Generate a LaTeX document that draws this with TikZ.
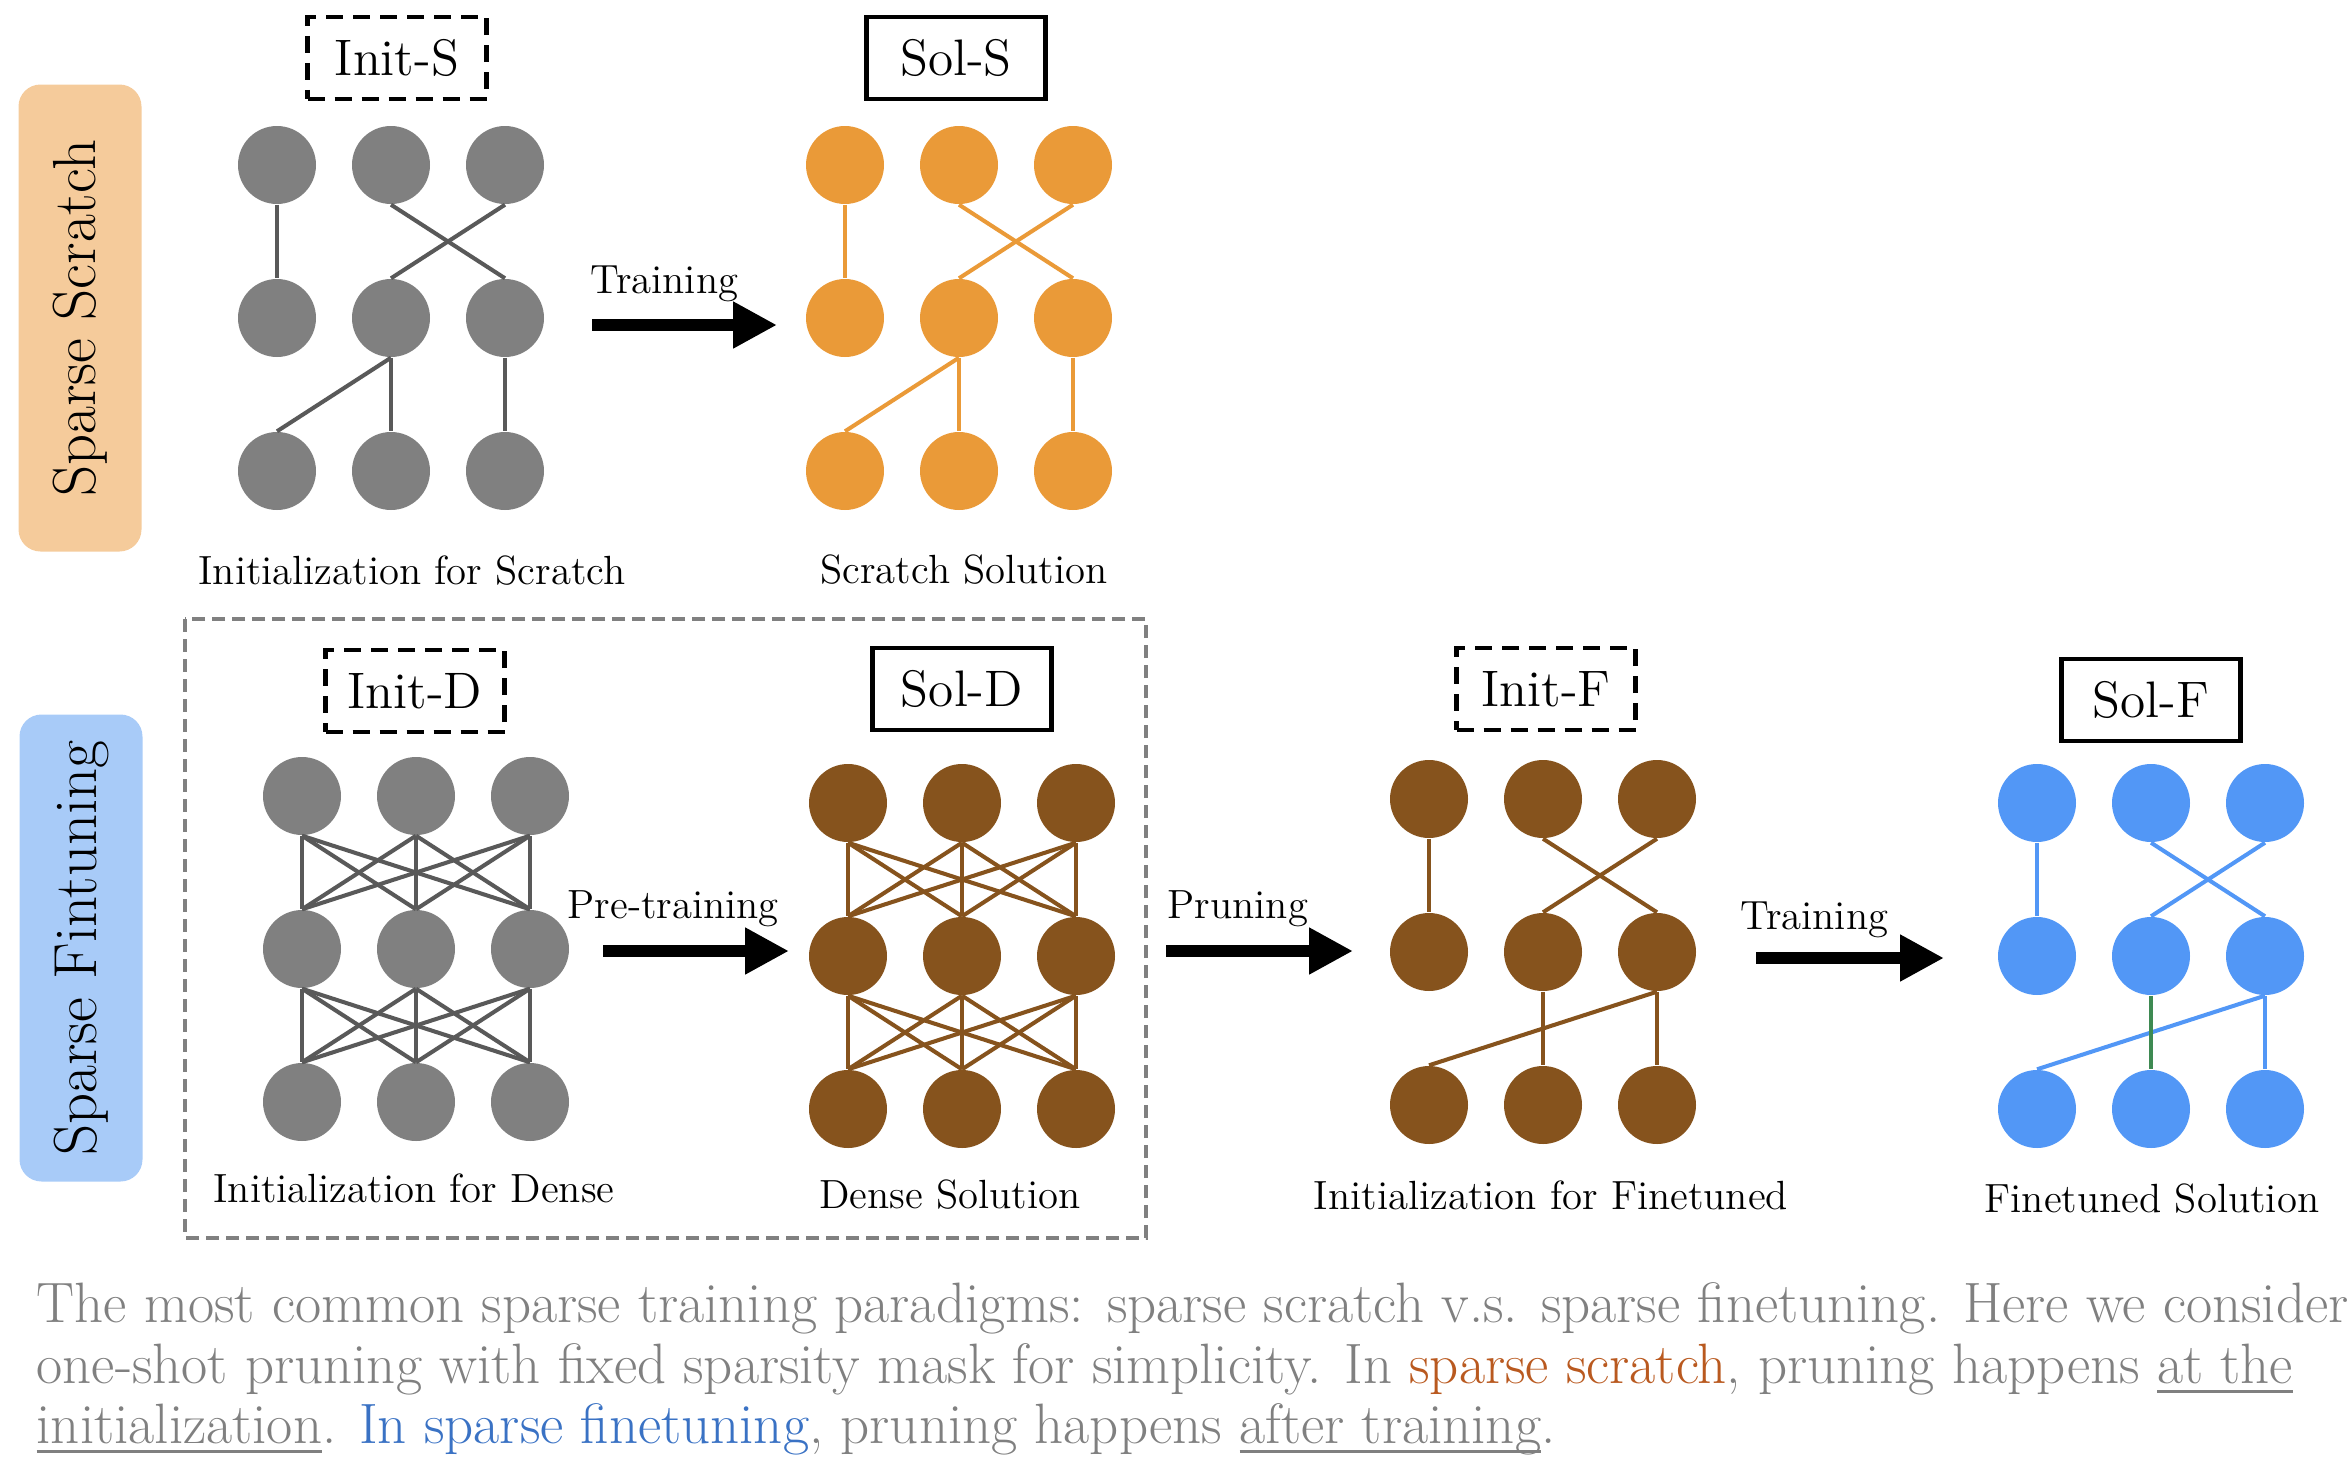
\documentclass[tikz,border=0pt]{standalone}
\usepackage{tikz}
\usetikzlibrary{arrows.meta,calc}
\definecolor{nodegray}{HTML}{808080}
\definecolor{edgegray}{HTML}{595959}
\definecolor{scrorange}{HTML}{EA9A38}
\definecolor{densebrown}{HTML}{86531D}
\definecolor{finblue}{HTML}{5297F6}
\definecolor{maskgreen}{HTML}{3E8A52}
\definecolor{scrfill}{HTML}{F5CB9B}
\definecolor{finfill}{HTML}{A8CBF8}
\definecolor{capgray}{HTML}{808080}
\definecolor{caporange}{HTML}{B9591F}
\definecolor{capblue}{HTML}{3A72C4}
\tikzset{>=Triangle}
\newcommand*{\undl}[1]{\setbox0\hbox{#1}\rlap{\rule[-2.9pt]{\wd0}{0.9pt}}\box0}

\begin{document}
\begin{tikzpicture}[x=0.1mm,y=-0.1mm,
  neuron/.style={circle,inner sep=0pt,minimum size=7.8mm},
  link/.style={line width=1.15pt},
  boxlbl/.style={line width=1.3pt,minimum width=17.9mm,minimum height=8.2mm,
    inner sep=0pt,font=\fontsize{14.6}{16}\selectfont},
  initbox/.style={boxlbl,draw,dash pattern=on 1.7mm off 1mm},
  solbox/.style={boxlbl,draw},
  netlbl/.style={anchor=base,inner sep=0pt,font=\fontsize{11.6}{13}\selectfont},
  steplbl/.style={anchor=base west,inner sep=0pt,font=\fontsize{11.6}{13}\selectfont},
  flow/.style={line width=1.2mm,-{Triangle[length=4.4mm,width=4.4mm]}},
  side/.style={rotate=90,rounded corners=2.2mm,minimum width=46.7mm,
    minimum height=12.3mm,font=\fontsize{17.3}{19}\selectfont},
  caption/.style={anchor=base west,inner sep=0pt,text=capgray,
    font=\fontsize{16.2}{18}\selectfont}]
\useasboundingbox (0,0) rectangle (2350,1462);

% side tags
\node[side,fill=scrfill] (scratch) at (80,318) {Sparse Scratch};
\node[side,fill=finfill] (finetune) at (81,948) {Sparse Fintuning};

% frame round the dense part
\draw[nodegray,line width=1.2pt,dash pattern=on 1.3mm off 0.7mm] (185,619) rectangle (1146,1238);

% the six networks
\foreach \n/\x/\y/\c in {IS/277/165/nodegray, SS/845/165/scrorange,
    ID/302/796/nodegray, SD/848/803/densebrown,
    IF/1429/799/densebrown, SF/2037/803/finblue}
  \foreach \i in {1,2,3}
    \foreach \r/\k in {a/0,b/1,c/2}
      \node[neuron,fill=\c] (\n\r\i) at ({\x+114*(\i-1)},{\y+153*\k}) {};

% sparse (scratch)
\foreach \n/\c in {IS/edgegray, SS/scrorange}
  \foreach \u/\v in {a1/b1,a2/b3,a3/b2,b2/c1,b2/c2,b3/c3}
    \draw[link,\c] (\n\u.south) -- (\n\v.north);
% dense
\foreach \n/\c in {ID/edgegray, SD/densebrown}
  \foreach \u/\v in {a/b,b/c}
    \foreach \i in {1,2,3}
      \foreach \j in {1,2,3}
        \draw[link,\c] (\n\u\i.south) -- (\n\v\j.north);
% sparse (finetuned)
\foreach \n/\c in {IF/densebrown, SF/finblue}
  \foreach \u/\v in {a1/b1,a2/b3,a3/b2,b3/c1,b3/c3}
    \draw[link,\c] (\n\u.south) -- (\n\v.north);
\draw[link,densebrown] (IFb2.south) -- (IFc2.north);
\draw[link,maskgreen] (SFb2.south) -- (SFc2.north);

% tags over the networks
\node[initbox] (initS) at (397,58) {Init-S};
\node[solbox] (solS) at (956,58) {Sol-S};
\node[initbox] (initD) at (415,691) {Init-D};
\node[solbox] (solD) at (962,689) {Sol-D};
\node[initbox] (initF) at (1546,689) {Init-F};
\node[solbox] (solF) at (2151,700) {Sol-F};

\node[netlbl] (capIS) at (412,584) {Initialization for Scratch};
\node[netlbl] (capSS) at (964,583) {Scratch Solution};
\node[netlbl] (capID) at (414,1202) {Initialization for Dense};
\node[netlbl] (capSD) at (950,1208) {Dense Solution};
\node[netlbl] (capIF) at (1551,1209) {Initialization for Finetuned};
\node[netlbl] (capSF) at (2152,1212) {Finetuned Solution};

% arrows
\coordinate (trS0) at (592,325);
\coordinate (trS1) at (777,325);
\coordinate (pre0) at (603,951);
\coordinate (pre1) at (789,951);
\coordinate (pru0) at (1166,951);
\coordinate (pru1) at (1353,951);
\coordinate (trF0) at (1756,958);
\coordinate (trF1) at (1944,958);
\draw[flow] (trS0) -- (trS1);
\draw[flow] (pre0) -- (pre1);
\draw[flow] (pru0) -- (pru1);
\draw[flow] (trF0) -- (trF1);
\node[steplbl] (lblTrS) at (590,293) {Training};
\node[steplbl] (lblPre) at (567,918) {Pre-training};
\node[steplbl] (lblPru) at (1167,918) {Pruning};
\node[steplbl] (lblTrF) at (1740,929) {Training};

% caption
\node[caption] (cap1) at (36,1322) {The most common sparse training paradigms: sparse scratch v.s. sparse finetuning. Here we consider};
\node[caption] (cap2) at (36,1383) {one-shot pruning with fixed sparsity mask for simplicity. In \textcolor{caporange}{sparse scratch}, pruning happens \undl{at the}};
\node[caption] (cap3) at (36,1443) {\undl{initialization}. \textcolor{capblue}{In sparse finetuning}, pruning happens \undl{after training}.};
\end{tikzpicture}
\end{document}
